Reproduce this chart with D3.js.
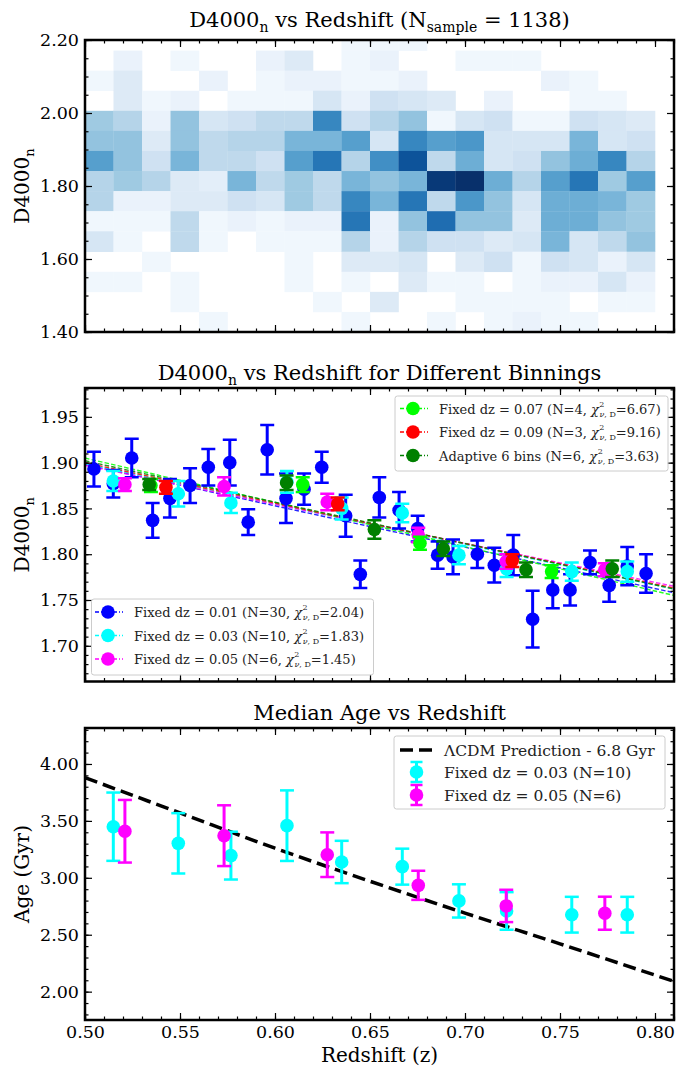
<!DOCTYPE html>
<html>
<head>
<meta charset="utf-8">
<title>D4000n vs Redshift</title>
<style>
  body { margin: 0; background: #fff; }
  svg { display: block; font-family: "DejaVu Serif", serif; }
</style>
</head>
<body>
<svg width="686" height="1068"></svg>
<script src="https://d3js.org/d3.v7.min.js"></script>
<script>
// ---------- panel 1: 2D histogram ----------
var zEdges = [0.500, 0.515, 0.530, 0.545, 0.560, 0.575, 0.590, 0.605, 0.620, 0.635, 0.650,
              0.665, 0.680, 0.695, 0.710, 0.725, 0.740, 0.755, 0.770, 0.785, 0.800];
var dEdges = [1.400, 1.455, 1.510, 1.565, 1.620, 1.676, 1.731, 1.786, 1.841, 1.896,
              1.951, 2.006, 2.061, 2.116, 2.171, 2.227];
// counts, top row first (row 14 -> row 0)
var counts = [
  [0,0,0,0,0,0,0,0,0,1, 1,1,0,0,0,0,0,0,0,0],
  [0,2,0,1,0,0,2,4,0,1, 2,0,0,1,1,1,0,0,0,0],
  [1,4,0,0,2,0,1,2,2,1, 1,2,0,0,0,0,2,1,0,0],
  [0,4,1,2,0,1,1,1,5,2, 6,5,4,0,2,0,0,1,1,0],
  [11,9,2,12,5,6,8,8,20,6, 9,12,1,5,6,1,1,6,5,4],
  [12,12,4,12,8,9,9,14,14,17, 5,20,17,18,5,5,5,14,5,6],
  [17,12,6,14,8,8,6,17,22,9, 19,26,8,15,5,6,12,15,20,9],
  [9,11,9,4,3,14,8,11,8,14, 12,14,29,30,15,9,17,22,11,17],
  [9,2,2,4,4,6,5,11,8,20, 14,22,8,18,12,5,15,15,14,11],
  [1,1,1,8,1,2,1,2,2,22, 2,12,23,12,12,4,15,15,12,11],
  [5,1,0,8,1,0,1,1,1,9, 2,9,6,6,4,5,14,5,8,12],
  [0,0,1,0,0,0,0,1,0,4, 4,5,0,4,6,1,6,5,2,5],
  [1,1,0,1,0,0,0,1,0,1, 0,4,1,1,0,1,2,2,5,2],
  [0,0,0,1,0,0,0,0,1,0, 4,0,0,1,1,1,1,0,1,1],
  [0,0,0,0,1,0,0,0,0,1, 0,0,1,0,1,2,1,1,0,0]
];

// ---------- panel 2: D4000n binned ----------
var z01 = [0.5047,0.5149,0.5246,0.5356,0.5447,0.5553,0.5649,0.5762,0.5859,0.5959,0.6058,0.6153,0.6246,0.6372,0.6449,
           0.6549,0.6653,0.6751,0.6856,0.6937,0.7065,0.7154,0.7254,0.7356,0.7462,0.7553,0.7658,0.7759,0.7854,0.7953];
var d01 = [1.893,1.877,1.905,1.837,1.861,1.875,1.895,1.900,1.835,1.914,1.861,1.871,1.895,1.842,1.778,
           1.862,1.848,1.828,1.799,1.797,1.800,1.788,1.799,1.729,1.761,1.761,1.791,1.766,1.787,1.779];
var e01 = [0.019,0.015,0.021,0.019,0.021,0.019,0.020,0.025,0.014,0.027,0.027,0.017,0.017,0.023,0.015,
           0.022,0.020,0.014,0.015,0.019,0.015,0.019,0.022,0.031,0.020,0.017,0.013,0.018,0.021,0.021];
var z03 = [0.5149,0.5491,0.5768,0.6063,0.6351,0.6670,0.6968,0.7219,0.7562,0.7854];
var d03 = [1.880,1.866,1.856,1.879,1.850,1.845,1.799,1.784,1.781,1.781];
var e03 = [0.011,0.014,0.011,0.012,0.012,0.010,0.010,0.009,0.010,0.011];
var z05 = [0.5210,0.5732,0.6275,0.6754,0.7217,0.7736];
var d05 = [1.876,1.874,1.857,1.821,1.792,1.783];
var e05 = [0.007,0.010,0.009,0.008,0.008,0.007];
var z07 = [0.5347,0.6146,0.6763,0.7456];
var d07 = [1.875,1.876,1.812,1.781];
var e07 = [0.007,0.008,0.007,0.007];
var z09 = [0.5426,0.6330,0.7249];
var d09 = [1.873,1.855,1.793];
var e09 = [0.007,0.007,0.007];
var zAd = [0.5338,0.6061,0.6523,0.6886,0.7321,0.7775];
var dAd = [1.876,1.878,1.827,1.806,1.783,1.784];
var eAd = [0.006,0.008,0.010,0.008,0.008,0.009];
// linear fits, value at z = 0.50 and z = 0.81
var fitZ = [0.50, 0.81];
var fit01 = [1.898, 1.758], fit03 = [1.899, 1.762], fit05 = [1.897, 1.765];
var fit07 = [1.905, 1.755], fit09 = [1.900, 1.763], fitAd = [1.902, 1.762];

// ---------- panel 3: median age ----------
var age03 = [3.449,3.303,3.195,3.458,3.139,3.098,2.797,2.709,2.676,2.676];
var ageErr03 = [0.300,0.265,0.210,0.310,0.186,0.158,0.146,0.165,0.157,0.157];
var age05 = [3.409,3.370,3.203,2.934,2.753,2.689];
var ageErr05 = [0.275,0.267,0.196,0.128,0.142,0.145];
var zLcdm = [0.50, 0.55, 0.60, 0.65, 0.70, 0.75, 0.81];
var ageLcdm = [3.88, 3.57, 3.26, 2.97, 2.69, 2.42, 2.09];

// ---------- ticks ----------
var zTicks = [0.50, 0.55, 0.60, 0.65, 0.70, 0.75, 0.80];
var dTicks1 = [1.40, 1.60, 1.80, 2.00, 2.20];
var dTicks2 = [1.70, 1.75, 1.80, 1.85, 1.90, 1.95];
var ageTicks = [2.00, 2.50, 3.00, 3.50, 4.00];

var svg = d3.select("svg");
var FONT = "DejaVu Serif";
var x = d3.scaleLinear().domain([0.50, 0.81]).range([85, 674]);

var p1 = {top: 40, bottom: 332},
    p2 = {top: 388, bottom: 681.5},
    p3 = {top: 728, bottom: 1020};

var y1 = d3.scaleLinear().domain([1.40, 2.20]).range([p1.bottom, p1.top]);
var y2 = d3.scaleLinear().domain([1.6610, 1.9815]).range([p2.bottom, p2.top]);
var y3 = d3.scaleLinear().domain([1.751, 4.316]).range([p3.bottom, p3.top]);

function clip(id, p) {
  svg.append("clipPath").attr("id", id).append("rect")
    .attr("x", x.range()[0]).attr("y", p.top)
    .attr("width", x.range()[1] - x.range()[0]).attr("height", p.bottom - p.top);
}
clip("c1", p1); clip("c2", p2); clip("c3", p3);

function minorList(lo, hi, step) {
  var n = Math.round((hi - lo) / step);
  return d3.range(n + 1).map(function(i) { return +(lo + i * step).toFixed(4); });
}

function axes(p, y, yMajor, yMinor, showX) {
  var f = d3.format(".2f");
  var xMinor = minorList(0.50, 0.81, 0.01);
  var parts = [
    [d3.axisBottom(x).tickValues(zTicks).tickSize(-7).tickPadding(6).tickFormat(showX ? f : ""), "translate(0," + p.bottom + ")"],
    [d3.axisBottom(x).tickValues(xMinor).tickSize(-3.5).tickFormat(""), "translate(0," + p.bottom + ")"],
    [d3.axisTop(x).tickValues(zTicks).tickSize(-7).tickFormat(""), "translate(0," + p.top + ")"],
    [d3.axisTop(x).tickValues(xMinor).tickSize(-3.5).tickFormat(""), "translate(0," + p.top + ")"],
    [d3.axisLeft(y).tickValues(yMajor).tickSize(-7).tickPadding(6).tickFormat(f), "translate(" + x.range()[0] + ",0)"],
    [d3.axisLeft(y).tickValues(yMinor).tickSize(-3.5).tickFormat(""), "translate(" + x.range()[0] + ",0)"],
    [d3.axisRight(y).tickValues(yMajor).tickSize(-7).tickFormat(""), "translate(" + x.range()[1] + ",0)"],
    [d3.axisRight(y).tickValues(yMinor).tickSize(-3.5).tickFormat(""), "translate(" + x.range()[1] + ",0)"]
  ];
  parts.forEach(function(a) {
    var g = svg.append("g").attr("transform", a[1]).call(a[0]);
    g.select(".domain").remove();
    g.selectAll("line").attr("stroke", "#000").attr("stroke-width", 1.2);
    g.selectAll("text").attr("font-family", FONT).attr("font-size", 17.5).attr("fill", "#000");
  });
  svg.append("rect")
    .attr("x", x.range()[0]).attr("y", p.top)
    .attr("width", x.range()[1] - x.range()[0]).attr("height", p.bottom - p.top)
    .attr("fill", "none").attr("stroke", "#000").attr("stroke-width", 2.5);
}

function title(p, parts, lift) {
  var t = svg.append("text").attr("x", (x.range()[0] + x.range()[1]) / 2).attr("y", p.top - 8 - (lift || 0))
    .attr("text-anchor", "middle").attr("font-family", FONT).attr("font-size", 21);
  parts.forEach(function(s) {
    var sp = t.append("tspan").text(s[0]);
    if (s[1] === "sub") sp.attr("font-size", 14).attr("dy", 5);
    if (s[1] === "back") sp.attr("dy", -5);
  });
}

function ylabel(p, parts) {
  var cy = (p.top + p.bottom) / 2;
  var t = svg.append("text").attr("transform", "translate(29," + cy + ") rotate(-90)")
    .attr("text-anchor", "middle").attr("font-family", FONT).attr("font-size", 20);
  parts.forEach(function(s) {
    var sp = t.append("tspan").text(s[0]);
    if (s[1] === "sub") sp.attr("font-size", 13).attr("dy", 5);
  });
}

// ================= panel 1 =================
var blues = function(c) { return d3.interpolateBlues(c / 30); };
var heat = svg.append("g").attr("clip-path", "url(#c1)");
var nRows = counts.length;
counts.forEach(function(row, ri) {
  var r = nRows - 1 - ri;   // bin index from bottom
  row.forEach(function(c, ci) {
    if (!c) return;
    heat.append("rect")
      .attr("x", x(zEdges[ci])).attr("width", x(zEdges[ci + 1]) - x(zEdges[ci]) + 0.3)
      .attr("y", y1(dEdges[r + 1])).attr("height", y1(dEdges[r]) - y1(dEdges[r + 1]) + 0.3)
      .attr("fill", blues(c));
  });
});
axes(p1, y1, dTicks1, minorList(1.40, 2.20, 0.05), false);
title(p1, [["D4000"], ["n", "sub"], [" vs Redshift (N", "back"], ["sample", "sub"], [" = 1138)", "back"]], 5);
ylabel(p1, [["D4000"], ["n", "sub"]]);

// ================= panel 2 =================
var series2 = [
  {z: z01, d: d01, e: e01, fit: fit01, color: "#0000ff", label: "Fixed dz = 0.01 (N=30, ", chi: "=2.04)"},
  {z: z03, d: d03, e: e03, fit: fit03, color: "#00ffff", label: "Fixed dz = 0.03 (N=10, ", chi: "=1.83)"},
  {z: z05, d: d05, e: e05, fit: fit05, color: "#ff00ff", label: "Fixed dz = 0.05 (N=6, ", chi: "=1.45)"},
  {z: z07, d: d07, e: e07, fit: fit07, color: "#00ff00", label: "Fixed dz = 0.07 (N=4, ", chi: "=6.67)"},
  {z: z09, d: d09, e: e09, fit: fit09, color: "#ff0000", label: "Fixed dz = 0.09 (N=3, ", chi: "=9.16)"},
  {z: zAd, d: dAd, e: eAd, fit: fitAd, color: "#008000", label: "Adaptive 6 bins (N=6, ", chi: "=3.63)"}
];
var g2 = svg.append("g").attr("clip-path", "url(#c2)");
var fitLine = d3.line().x(function(d) { return x(d[0]); }).y(function(d) { return y2(d[1]); });
series2.forEach(function(s) {
  g2.append("path")
    .datum(fitZ.map(function(z, i) { return [z, s.fit[i]]; }))
    .attr("d", fitLine).attr("fill", "none")
    .attr("stroke", s.color).attr("stroke-width", 1.4).attr("stroke-dasharray", "4.5,2.2").attr("opacity", 0.85);
});

function errorbars(g, y, zs, vs, es, color) {
  zs.forEach(function(z, i) {
    var cx = x(z), top = y(vs[i] + es[i]), bot = y(vs[i] - es[i]);
    g.append("line").attr("x1", cx).attr("x2", cx).attr("y1", top).attr("y2", bot)
      .attr("stroke", color).attr("stroke-width", 3);
    [top, bot].forEach(function(yy) {
      g.append("line").attr("x1", cx - 7).attr("x2", cx + 7).attr("y1", yy).attr("y2", yy)
        .attr("stroke", color).attr("stroke-width", 2.5);
    });
    g.append("circle").attr("cx", cx).attr("cy", y(vs[i])).attr("r", 6.8).attr("fill", color);
  });
}
series2.forEach(function(s) { errorbars(g2, y2, s.z, s.d, s.e, s.color); });
axes(p2, y2, dTicks2, minorList(1.67, 1.98, 0.01), false);
title(p2, [["D4000"], ["n", "sub"], [" vs Redshift for Different Binnings", "back"]], 0);
ylabel(p2, [["D4000"], ["n", "sub"]]);

function legendBox(bx, by, bw, bh) {
  svg.append("rect").attr("x", bx).attr("y", by).attr("width", bw).attr("height", bh)
    .attr("rx", 2.5).attr("fill", "#fff").attr("fill-opacity", 0.85)
    .attr("stroke", "#cccccc").attr("stroke-width", 1);
}
function chiEntry(lx, ly, s) {
  svg.append("line").attr("x1", lx - 13).attr("x2", lx + 15).attr("y1", ly).attr("y2", ly)
    .attr("stroke", s.color).attr("stroke-width", 1.3).attr("stroke-dasharray", "4,2,1,2");
  svg.append("circle").attr("cx", lx).attr("cy", ly).attr("r", 6.8).attr("fill", s.color);
  var t = svg.append("text").attr("x", lx + 26).attr("y", ly + 5)
    .attr("font-family", FONT).attr("font-size", 13).attr("fill", "#222");
  t.append("tspan").text(s.label);
  t.append("tspan").attr("font-style", "italic").text("χ");
  t.append("tspan").attr("font-size", 8).attr("dy", -7).attr("dx", 0.5).text("2");
  t.append("tspan").attr("font-size", 8).attr("font-style", "italic").attr("dx", -5).attr("dy", 10).text("ν");
  t.append("tspan").attr("font-size", 8).text(", D");
  t.append("tspan").attr("dy", -3).text(s.chi);
}
legendBox(91.5, 599, 282, 76);
series2.slice(0, 3).forEach(function(s, i) { chiEntry(108, 612 + i * 23.5, s); });
legendBox(395, 396, 273, 75);
series2.slice(3).forEach(function(s, i) { chiEntry(413, 408.5 + i * 23.5, s); });

// ================= panel 3 =================
var g3 = svg.append("g").attr("clip-path", "url(#c3)");
g3.append("path")
  .datum(zLcdm.map(function(z, i) { return [z, ageLcdm[i]]; }))
  .attr("d", d3.line().curve(d3.curveMonotoneX).x(function(d) { return x(d[0]); }).y(function(d) { return y3(d[1]); }))
  .attr("fill", "none").attr("stroke", "#000").attr("stroke-width", 3.5).attr("stroke-dasharray", "13,6");
errorbars(g3, y3, z03, age03, ageErr03, "#00ffff");
errorbars(g3, y3, z05, age05, ageErr05, "#ff00ff");
axes(p3, y3, ageTicks, minorList(1.8, 4.3, 0.1), true);
title(p3, [["Median Age vs Redshift"]], 0);
ylabel(p3, [["Age (Gyr)"]]);
svg.append("text").attr("x", (x.range()[0] + x.range()[1]) / 2).attr("y", 1062)
  .attr("text-anchor", "middle").attr("font-family", FONT).attr("font-size", 20).text("Redshift (z)");

legendBox(394, 736, 271, 73);
svg.append("line").attr("x1", 400).attr("x2", 432).attr("y1", 750).attr("y2", 750)
  .attr("stroke", "#000").attr("stroke-width", 3.5).attr("stroke-dasharray", "13,6");
[["#00ffff", "Fixed dz = 0.03 (N=10)"], ["#ff00ff", "Fixed dz = 0.05 (N=6)"]].forEach(function(d, i) {
  var cy = 772 + i * 23, cx = 416.5;
  svg.append("line").attr("x1", cx).attr("x2", cx).attr("y1", cy - 10).attr("y2", cy + 10).attr("stroke", d[0]).attr("stroke-width", 3);
  [cy - 10, cy + 10].forEach(function(yy) {
    svg.append("line").attr("x1", cx - 6).attr("x2", cx + 6).attr("y1", yy).attr("y2", yy).attr("stroke", d[0]).attr("stroke-width", 2.5);
  });
  svg.append("circle").attr("cx", cx).attr("cy", cy).attr("r", 6.8).attr("fill", d[0]);
  svg.append("text").attr("x", 444).attr("y", cy + 5.5).attr("font-family", FONT).attr("font-size", 15.5)
    .attr("fill", "#222").text(d[1]);
});
svg.append("text").attr("x", 444).attr("y", 755.5).attr("font-family", FONT).attr("font-size", 15.5)
  .attr("fill", "#222").text("ΛCDM Prediction - 6.8 Gyr");
</script>
</body>
</html>
